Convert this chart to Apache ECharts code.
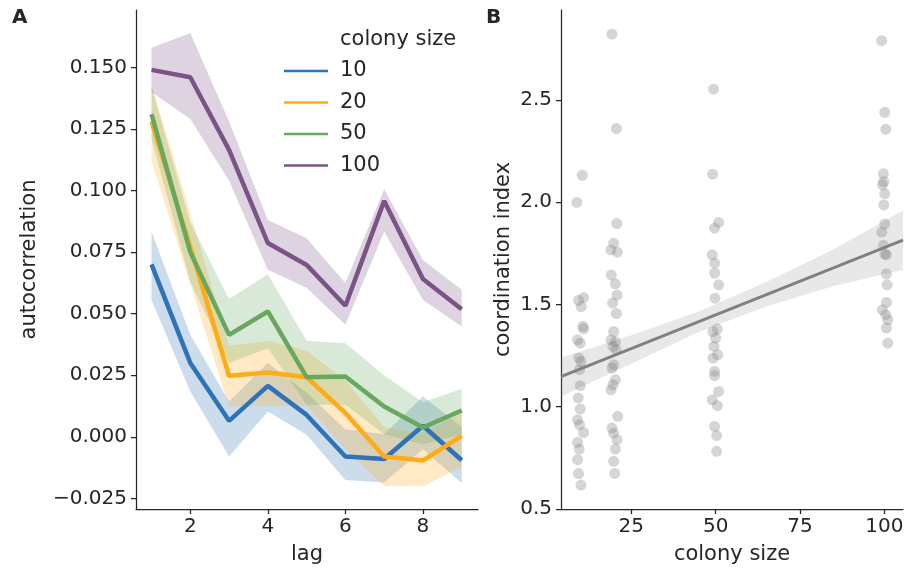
<!DOCTYPE html>
<html><head><meta charset="utf-8">
<script src="https://cdn.jsdelivr.net/npm/echarts@6/dist/echarts.min.js"></script>
<style>html,body{margin:0;padding:0;background:#fff}#c{width:907px;height:571px}</style>
</head><body><div id="c"></div>
<script>
// ---------- Panel A data ----------
const lags = [1, 2, 3, 4, 5, 6, 7, 8, 9];
const sizeNames = ['10', '20', '50', '100'];
const acf10  = [0.070, 0.030, 0.0065, 0.0207, 0.0089, -0.0080, -0.0090, 0.0045, -0.0095];
const lo10   = [0.0556, 0.0184, -0.0080, 0.0103, 0.0008, -0.0175, -0.0185, -0.0050, -0.0187];
const hi10   = [0.0833, 0.0414, 0.0143, 0.0300, 0.0180, 0.0030, 0.0010, 0.0164, 0.0040];
const acf20  = [0.128, 0.077, 0.0248, 0.0261, 0.0242, 0.0097, -0.0080, -0.0096, 0.0004];
const lo20   = [0.112, 0.062, 0.0123, 0.0125, 0.0125, -0.0050, -0.0200, -0.0202, -0.0120];
const hi20   = [0.143, 0.091, 0.0370, 0.0390, 0.0350, 0.0230, 0.0040, 0.0010, 0.0100];
const acf50  = [0.131, 0.075, 0.0414, 0.0509, 0.0242, 0.0245, 0.0123, 0.0038, 0.0107];
const lo50   = [0.121, 0.063, 0.030, 0.036, 0.013, 0.013, 0.001, -0.003, 0.001];
const hi50   = [0.142, 0.087, 0.056, 0.066, 0.039, 0.038, 0.025, 0.014, 0.0195];
const acf100 = [0.149, 0.146, 0.1165, 0.0787, 0.0698, 0.0532, 0.0958, 0.0641, 0.0518];
const lo100  = [0.140, 0.129, 0.104, 0.0678, 0.0605, 0.0455, 0.0833, 0.0556, 0.0448];
const hi100  = [0.158, 0.164, 0.128, 0.088, 0.0806, 0.0625, 0.1005, 0.0718, 0.0597];
const lagTicks = [2, 4, 6, 8];
const acfTicks = [-0.025, 0, 0.025, 0.05, 0.075, 0.1, 0.125, 0.15];

// ---------- Panel B data ----------
const colonyX = [
  19.3, 20.6, 10.5, 8.9, 20.7, 19.8, 19.0, 20.9,
  19.1, 20.3, 20.8, 19.5, 20.6, 19.8, 19.0, 20.3, 19.6, 20.5, 19.8, 19.3, 20.3, 19.6, 19.0, 21.0, 19.3, 19.8, 20.8, 20.3, 19.8, 20.1,
  9.4, 10.9, 10.2, 10.7, 10.9, 9.1, 9.9, 9.5, 10.1, 9.7, 9.9, 9.3, 9.9, 9.1, 9.7, 10.9, 9.1, 9.6, 9.1, 9.4, 10.1,
  49.4, 49.1, 50.9, 49.7, 49.0, 49.7, 49.7, 50.9, 49.8, 50.5, 49.2, 50.0, 49.5, 50.6, 49.2, 49.7, 49.7, 50.9, 49.0, 50.5, 49.7, 50.3, 50.3,
  99.2, 100.1, 100.4, 99.7, 99.8, 99.4, 100.1, 99.8, 100.1, 99.2, 99.7, 100.1, 100.6, 100.6, 100.8, 100.6, 99.4, 100.4, 101.0, 100.6, 101.0
];
const coordIdx = [
  2.822, 2.360, 2.132, 1.999, 1.896, 1.800, 1.767, 1.756,
  1.644, 1.601, 1.546, 1.507, 1.456, 1.368, 1.327, 1.318, 1.295, 1.279, 1.205, 1.189, 1.132, 1.107, 1.083, 0.953, 0.896, 0.871, 0.839, 0.793, 0.733, 0.674,
  1.520, 1.534, 1.490, 1.393, 1.381, 1.327, 1.311, 1.238, 1.221, 1.181, 1.103, 1.043, 0.989, 0.936, 0.912, 0.874, 0.826, 0.793, 0.741, 0.673, 0.617,
  2.553, 2.137, 1.901, 1.873, 1.743, 1.702, 1.653, 1.596, 1.531, 1.380, 1.368, 1.336, 1.295, 1.254, 1.238, 1.173, 1.152, 1.075, 1.034, 1.005, 0.904, 0.860, 0.782,
  2.790, 2.440, 2.357, 2.139, 2.101, 2.085, 2.041, 1.987, 1.894, 1.854, 1.790, 1.746, 1.743, 1.650, 1.596, 1.510, 1.474, 1.450, 1.425, 1.385, 1.311
];
const regX  = [4.2, 105.5];
const regY  = [1.147, 1.815];
const ciX   = [4.2, 25, 45, 65, 85, 105.5];
const ciLo  = [1.05, 1.21, 1.366, 1.49, 1.59, 1.67];
const ciHi  = [1.24, 1.35, 1.466, 1.61, 1.77, 1.96];
const colonyTicks = [25, 50, 75, 100];
const coordTicks = [0.5, 1.0, 1.5, 2.0, 2.5];

// ---------- styling ----------
const FONT = 'DejaVu Sans';
const INK = '#262626';
const colors = ['#2f72b8', '#ffab16', '#68a85e', '#7b5487'];

function band(name, xs, lo, hi, color, opacity, axisIdx) {
  return {
    name: name, type: 'custom', xAxisIndex: axisIdx, yAxisIndex: axisIdx,
    silent: true, z: 2,
    data: xs.map((x, i) => [x, lo[i], hi[i]]),
    encode: { x: 0, y: [1, 2] },
    renderItem: function (params, api) {
      if (params.dataIndex !== 0) return null;
      const pts = [];
      for (let i = 0; i < xs.length; i++) pts.push(api.coord([xs[i], hi[i]]));
      for (let i = xs.length - 1; i >= 0; i--) pts.push(api.coord([xs[i], lo[i]]));
      return { type: 'polygon', shape: { points: pts }, style: { fill: color, opacity: opacity } };
    }
  };
}
function lineSeries(name, xs, ys, color, width, axisIdx) {
  return {
    name: name, type: 'line', xAxisIndex: axisIdx, yAxisIndex: axisIdx,
    data: xs.map((x, i) => [x, ys[i]]), symbol: 'none', showSymbol: false,
    lineStyle: { color: color, width: width }, itemStyle: { color: color }, z: 2
  };
}

const accs = [acf10, acf20, acf50, acf100];
const los = [lo10, lo20, lo50, lo100];
const his = [hi10, hi20, hi50, hi100];
const series = [];
for (let k = 0; k < 4; k++) {
  series.push(lineSeries(sizeNames[k], lags, accs[k], colors[k], 4.5, 0));
  series.push(band('band' + sizeNames[k], lags, los[k], his[k], colors[k], 0.25, 0));
}
series.push({
  name: 'points', type: 'scatter', xAxisIndex: 1, yAxisIndex: 1,
  data: colonyX.map((x, i) => [x, coordIdx[i]]), symbolSize: 11,
  itemStyle: { color: '#808080', opacity: 0.33 }, z: 2
});
series.push(band('ci', ciX, ciLo, ciHi, '#8a8c90', 0.2, 1));
series.push(lineSeries('fit', regX, regY, '#808080', 3, 1));

const axisCommon = {
  axisLine: { show: true, onZero: false, lineStyle: { color: INK, width: 1.25 } },
  splitLine: { show: false },
  nameTextStyle: { fontFamily: FONT, fontSize: 21, color: INK },
  nameLocation: 'middle'
};
function tickCfg(vals) {
  return { show: true, length: 5, lineStyle: { color: INK, width: 1.25 }, customValues: vals };
}
function labelCfg(vals, fmt, margin) {
  return { customValues: vals, formatter: fmt, fontFamily: FONT, fontSize: 20, color: INK, margin: margin };
}

const option = {
  animation: false,
  backgroundColor: '#ffffff',
  grid: [
    { left: 136, top: 10, width: 342, height: 499 },
    { left: 561, top: 10, width: 342, height: 499 }
  ],
  xAxis: [
    Object.assign({}, axisCommon, {
      gridIndex: 0, type: 'value', min: 0.6, max: 9.42, name: 'lag', nameGap: 35,
      axisTick: tickCfg(lagTicks), axisLabel: labelCfg(lagTicks, v => String(v), 8)
    }),
    Object.assign({}, axisCommon, {
      gridIndex: 1, type: 'value', min: 4.2, max: 105.5, name: 'colony size', nameGap: 35,
      axisTick: tickCfg(colonyTicks), axisLabel: labelCfg(colonyTicks, v => String(v), 8)
    })
  ],
  yAxis: [
    Object.assign({}, axisCommon, {
      gridIndex: 0, type: 'value', min: -0.0293, max: 0.1733, name: 'autocorrelation', nameGap: 96,
      axisTick: tickCfg(acfTicks),
      axisLabel: labelCfg(acfTicks, v => (v < 0 ? '\u2212' : '') + Math.abs(v).toFixed(3), 9)
    }),
    Object.assign({}, axisCommon, {
      gridIndex: 1, type: 'value', min: 0.5, max: 2.94, name: 'coordination index', nameGap: 47,
      axisTick: tickCfg(coordTicks), axisLabel: labelCfg(coordTicks, v => v.toFixed(1), 9)
    })
  ],
  legend: {
    data: sizeNames, orient: 'vertical', left: 279, top: 55, itemWidth: 44, itemHeight: 2.5,
    itemGap: 9.5, icon: 'rect', selectedMode: false,
    textStyle: { fontFamily: FONT, fontSize: 21, color: INK, lineHeight: 22, padding: [0, 0, 0, 7] }
  },
  graphic: [
    { type: 'text', x: 340, y: 39.5, style: { text: 'colony size', font: '21px "DejaVu Sans"', fill: INK, verticalAlign: 'middle' } },
    { type: 'text', x: 12, y: 18, style: { text: 'A', font: 'bold 20px "DejaVu Sans"', fill: INK, verticalAlign: 'middle' } },
    { type: 'text', x: 486, y: 18, style: { text: 'B', font: 'bold 20px "DejaVu Sans"', fill: INK, verticalAlign: 'middle' } }
  ],
  series: series
};
const chart = echarts.init(document.getElementById('c'), null, { renderer: 'canvas' });
chart.setOption(option);
</script>
</body></html>
